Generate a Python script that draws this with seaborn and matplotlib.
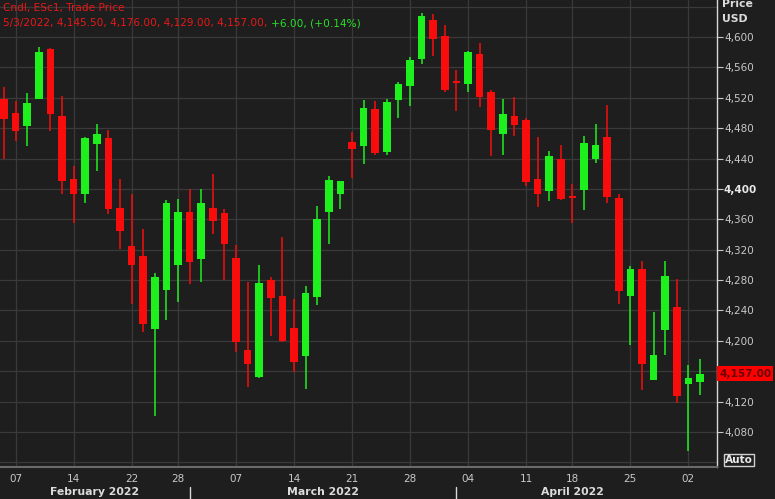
import numpy as np
import pandas as pd
import matplotlib
matplotlib.use("Agg")
import matplotlib.pyplot as plt
import matplotlib.transforms as mtransforms
import seaborn as sns

# Daily candles, ESc1
dates = ["2022-02-04", "2022-02-07", "2022-02-08", "2022-02-09", "2022-02-10", "2022-02-11",
         "2022-02-14", "2022-02-15", "2022-02-16", "2022-02-17", "2022-02-18", "2022-02-22",
         "2022-02-23", "2022-02-24", "2022-02-25", "2022-02-28", "2022-03-01", "2022-03-02",
         "2022-03-03", "2022-03-04", "2022-03-07", "2022-03-08", "2022-03-09", "2022-03-10",
         "2022-03-11", "2022-03-14", "2022-03-15", "2022-03-16", "2022-03-17", "2022-03-18",
         "2022-03-21", "2022-03-22", "2022-03-23", "2022-03-24", "2022-03-25", "2022-03-28",
         "2022-03-29", "2022-03-30", "2022-03-31", "2022-04-01", "2022-04-04", "2022-04-05",
         "2022-04-06", "2022-04-07", "2022-04-08", "2022-04-11", "2022-04-12", "2022-04-13",
         "2022-04-14", "2022-04-18", "2022-04-19", "2022-04-20", "2022-04-21", "2022-04-22",
         "2022-04-25", "2022-04-26", "2022-04-27", "2022-04-28", "2022-04-29", "2022-05-02",
         "2022-05-03"]
opens = [4519, 4500, 4483, 4519, 4584, 4496, 4413, 4393, 4459, 4467, 4375, 4325,
         4312, 4216, 4267, 4300, 4369, 4308, 4375, 4368, 4309, 4188, 4153, 4280,
         4259, 4217, 4180, 4258, 4370, 4393, 4462, 4456, 4505, 4448, 4517, 4535,
         4571, 4622, 4601, 4542, 4538, 4578, 4528, 4472, 4496, 4491, 4413, 4397,
         4440, 4391, 4399, 4440, 4469, 4388, 4259, 4295, 4149, 4214, 4245, 4143,
         4145.5]
highs = [4534, 4516, 4526, 4587, 4586, 4522, 4430, 4469, 4486, 4477, 4413, 4394,
         4347, 4290, 4385, 4387, 4400, 4400, 4420, 4374, 4326, 4277, 4300, 4284,
         4337, 4255, 4272, 4377, 4417, 4410, 4475, 4517, 4516, 4519, 4541, 4574,
         4632, 4630, 4616, 4557, 4581, 4592, 4530, 4519, 4521, 4493, 4468, 4450,
         4458, 4406, 4470, 4486, 4511, 4394, 4299, 4305, 4238, 4305, 4281, 4168,
         4176]
lows = [4439, 4463, 4456, 4518, 4476, 4393, 4355, 4381, 4423, 4367, 4321, 4249,
        4212, 4101, 4228, 4251, 4275, 4278, 4341, 4280, 4185, 4139, 4151, 4207,
        4198, 4159, 4137, 4247, 4328, 4374, 4414, 4433, 4445, 4445, 4493, 4509,
        4565, 4575, 4527, 4502, 4528, 4508, 4444, 4445, 4470, 4404, 4376, 4384,
        4385, 4355, 4372, 4434, 4381, 4249, 4195, 4135, 4148, 4181, 4118, 4055,
        4129]
closes = [4492, 4476, 4513, 4580, 4498, 4410, 4394, 4467, 4472, 4374, 4344, 4300,
          4222, 4284, 4382, 4370, 4304, 4382, 4358, 4327, 4198, 4169, 4276, 4257,
          4200, 4172, 4263, 4360, 4412, 4410, 4452, 4507, 4447, 4514, 4538, 4570,
          4628, 4597, 4530, 4540, 4580, 4521, 4477, 4498, 4484, 4409, 4393, 4443,
          4387, 4388, 4461, 4458, 4390, 4266, 4294, 4170, 4181, 4285, 4128, 4151,
          4157]

tick_dates = ["2022-02-07", "2022-02-14", "2022-02-22", "2022-02-28", "2022-03-07",
              "2022-03-14", "2022-03-21", "2022-03-28", "2022-04-04", "2022-04-11",
              "2022-04-18", "2022-04-25", "2022-05-02"]
tick_labels = ["07", "14", "22", "28", "07", "14", "21", "28", "04", "11", "18", "25", "02"]
month_starts = ["2022-03-01", "2022-04-01", "2022-05-02"]
month_names = ["February 2022", "March 2022", "April 2022"]
price_ticks = list(range(4080, 4601, 40))

df = pd.DataFrame({"date": dates, "open": opens, "high": highs, "low": lows, "close": closes})
df["idx"] = np.arange(len(df))
df["up"] = df["close"] >= df["open"]
pos = {d: i for i, d in enumerate(dates)}

BG = "#1e1e1e"
GRID = "#3a3a3a"
TXT = "#c8c8c8"
RED = "#f80c0c"
GREEN = "#1ef01e"

sns.set_theme(style="dark", rc={
    "axes.facecolor": BG, "figure.facecolor": BG, "savefig.facecolor": BG,
    "grid.color": GRID, "text.color": TXT, "xtick.color": TXT, "ytick.color": TXT,
})
plt.rcParams["font.family"] = ["DejaVu Sans"]

fig, ax = plt.subplots(figsize=(7.75, 4.99), dpi=100)
fig.subplots_adjust(left=0, right=717 / 775, bottom=32 / 499, top=1)

colors = np.where(df["up"], GREEN, RED)
ax.vlines(df["idx"], df["low"], df["high"], colors=colors, lw=1.1, zorder=2)
body_lo = df[["open", "close"]].min(axis=1)
body_h = (df["close"] - df["open"]).abs().clip(lower=1.5)
ax.bar(df["idx"], body_h, bottom=body_lo, width=0.66, color=colors, zorder=3, linewidth=0)

ax.set_xlim(-0.345, 61.47)
ax.set_ylim(4034, 4648.7)

last = df.iloc[-1]
prev_close = df.iloc[-2]["close"]

# y axis on the right
ax.yaxis.tick_right()
ax.set_yticks(price_ticks)
ax.set_yticklabels([f"{p:,}" for p in price_ticks])
ax.set_yticks([4040, 4640], minor=True)
for p, lbl in zip(price_ticks, ax.get_yticklabels()):
    if p == 4400:
        lbl.set_fontweight("bold")
        lbl.set_color("#e8e8e8")
    if abs(p - last["close"]) < 15:
        lbl.set_visible(False)  # hidden behind the last-price tag

# x axis ticks at Mondays, minor ticks at month starts
ax.set_xticks([pos[d] for d in tick_dates])
ax.set_xticklabels(tick_labels)
ax.set_xticks([pos[d] for d in month_starts[:2]], minor=True)

ax.set_axisbelow(True)
ax.grid(True, which="major", axis="both", color=GRID, lw=0.9)
ax.grid(True, which="minor", axis="y", color=GRID, lw=0.9)
ax.tick_params(axis="y", which="major", direction="out", length=4, width=0.8,
               color=TXT, labelsize=7.5, pad=1)
ax.tick_params(axis="y", which="minor", length=0)
ax.tick_params(axis="x", which="both", direction="out", length=4, width=0.8,
               color=TXT, labelsize=7.5, pad=1)

for s in ["top", "left"]:
    ax.spines[s].set_visible(False)
ax.spines["right"].set_color("#d8d8d8")
ax.spines["right"].set_linewidth(1.0)
ax.spines["bottom"].set_color("#6a6a6a")
ax.spines["bottom"].set_linewidth(1.5)

# month labels and dividers under the axis
trans = mtransforms.blended_transform_factory(ax.transData, ax.transAxes)
bounds = [ax.get_xlim()[0]] + [pos[d] for d in month_starts]
for i, name in enumerate(month_names):
    ax.text((bounds[i] + bounds[i + 1]) / 2, -0.054, name, transform=trans,
            ha="center", va="center", fontsize=7.8, fontweight="bold", color="#dcdcdc")
for d in month_starts[:2]:
    ax.plot([pos[d], pos[d]], [-0.043, -0.07], transform=trans, color="#d8d8d8",
            lw=1, clip_on=False)

# header
chg = last["close"] - prev_close
fig.text(3 / 775, 1 - 7.5 / 499, "Cndl, ESc1, Trade Price", color="#e81818",
         fontsize=7.6, va="center", ha="left")
red_part = (f"5/3/2022, {last['open']:,.2f}, {last['high']:,.2f}, "
            f"{last['low']:,.2f}, {last['close']:,.2f}, ")
t1 = fig.text(3 / 775, 1 - 23 / 499, red_part, color="#e81818", fontsize=7.6,
              va="center", ha="left")
fig.canvas.draw()
bb = t1.get_window_extent()
fig.text(bb.x1 / fig.bbox.width, 1 - 23 / 499,
         f"{chg:+.2f}, ({chg / prev_close * 100:+.2f}%)",
         color="#28e028", fontsize=7.6, va="center", ha="left")

# right-hand labels
fig.text(722 / 775, 1 - 4 / 499, "Price", color="#dcdcdc", fontsize=7.8,
         fontweight="bold", va="center", ha="left")
fig.text(722 / 775, 1 - 19 / 499, "USD", color="#dcdcdc", fontsize=7.8,
         fontweight="bold", va="center", ha="left")
ptrans = mtransforms.blended_transform_factory(fig.transFigure, ax.transData)
ax.text(719 / 775, last["close"], f"{last['close']:,.2f}", transform=ptrans,
        color="#6a0000", fontsize=7.6, fontweight="bold", va="center", ha="left",
        bbox=dict(boxstyle="square,pad=0.2", fc="#ff0000", ec="none"), clip_on=False)
fig.text(725 / 775, 1 - 460 / 499, "Auto", color="#e8e8e8", fontsize=7.6,
         fontweight="bold", va="center", ha="left",
         bbox=dict(boxstyle="square,pad=0.12", fc="none", ec="#d0d0d0", lw=1))

fig.savefig("out.png", dpi=100)
